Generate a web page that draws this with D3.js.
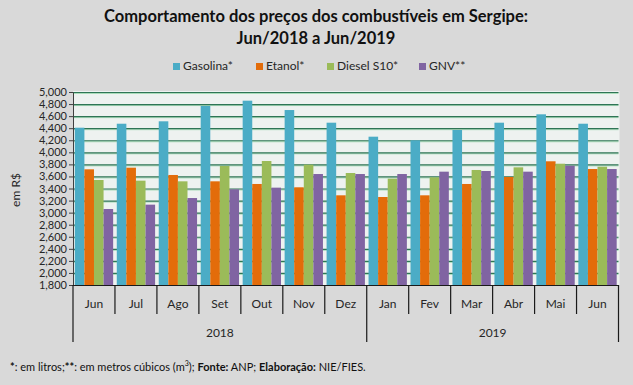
<!DOCTYPE html>
<html>
<head>
<meta charset="utf-8">
<script src="https://cdn.jsdelivr.net/npm/d3@7"></script>
<style>
html,body{margin:0;padding:0;background:#d9d9d9;}
svg{display:block;font-family:Lato,"Open Sans",sans-serif;}
</style>
</head>
<body>
<svg id="chart" width="633" height="385"></svg>
<script>
const months = ["Jun","Jul","Ago","Set","Out","Nov","Dez","Jan","Fev","Mar","Abr","Mai","Jun"];
const years = [{label:"2018", from:0, to:7},{label:"2019", from:7, to:13}];
const seriesNames = ["Gasolina*","Etanol*","Diesel S10*","GNV**"];
const colors = ["#4bacc6","#e36c0a","#9bbb59","#8064a2"];
const gasolina = [4408,4474,4514,4768,4856,4701,4491,4259,4199,4370,4491,4630,4474];
const etanol   = [3718,3745,3624,3519,3475,3420,3287,3259,3287,3475,3591,3851,3723];
const diesel   = [3541,3530,3519,3773,3856,3795,3657,3563,3585,3707,3751,3811,3761];
const gnv      = [3060,3132,3242,3386,3414,3640,3640,3640,3679,3690,3679,3778,3723];
const yTicks = d3.range(1800, 5001, 200);
const seriesValues = [gasolina, etanol, diesel, gnv];

const svg = d3.select("#chart");
const fmt = d3.format(",");

const pL = 73, pR = 618.5, pT = 92, pB = 285;
const x = d3.scaleBand().domain(d3.range(months.length)).range([pL, pR]).paddingInner(0).paddingOuter(0);
const inner = d3.scaleBand().domain(d3.range(4)).range([0, x.bandwidth()]).paddingOuter(0.19).paddingInner(0);
const y = d3.scaleLinear().domain([1800, 5000]).range([pB, pT]);

// plot background
svg.append("rect").attr("x", pL).attr("y", pT - 1).attr("width", pR - pL + 1).attr("height", pB - pT + 1).attr("fill", "#eef2f0");

// gridlines
const grid = svg.append("g");
yTicks.forEach(t => {
  if (t === 1800) return;
  grid.append("line").attr("x1", pL).attr("x2", pR).attr("y1", y(t) + 1.5).attr("y2", y(t) + 1.5).attr("stroke", "#a9dcb9").attr("stroke-width", 1);
  grid.append("line").attr("x1", pL).attr("x2", pR).attr("y1", y(t) + 0.5).attr("y2", y(t) + 0.5).attr("stroke", "#2f7556").attr("stroke-width", 1.2);
});

// bars
const bars = svg.append("g");
seriesValues.forEach((vals, s) => {
  bars.selectAll(null).data(vals).enter().append("rect")
    .attr("x", (d, i) => x(i) + inner(s))
    .attr("width", inner.bandwidth())
    .attr("y", d => y(d))
    .attr("height", d => y(1800) - y(d))
    .attr("fill", colors[s]);
});

// y axis
const yAxis = d3.axisLeft(y).tickValues(yTicks).tickFormat(fmt).tickSize(4).tickSizeOuter(0);
const ya = svg.append("g").attr("transform", `translate(${pL},0)`).call(yAxis);
ya.select(".domain").attr("stroke", "#404040");
ya.selectAll(".tick line").attr("stroke", "#404040");
ya.selectAll(".tick text").attr("font-size", 11).attr("fill", "#262626").attr("font-family", "Lato, sans-serif").attr("x", -6);

// x axis lines
const xa = svg.append("g").attr("stroke", "#1a1a1a").attr("stroke-width", 1.2);
xa.append("line").attr("x1", pL).attr("x2", pR).attr("y1", pB + 0.5).attr("y2", pB + 0.5);
d3.range(months.length + 1).forEach(i => {
  const xx = i < months.length ? x(i) : pR;
  const isYear = years.some(yr => yr.from === i || yr.to === i);
  xa.append("line").attr("x1", xx).attr("x2", xx).attr("y1", pB).attr("y2", isYear ? 342 : 314);
});

svg.append("g").selectAll("text").data(months).enter().append("text")
  .attr("x", (d, i) => x(i) + x.bandwidth() / 2).attr("y", 305)
  .attr("text-anchor", "middle").attr("dominant-baseline", "middle")
  .attr("font-size", 12).attr("fill", "#262626").text(d => d);

svg.append("g").selectAll("text").data(years).enter().append("text")
  .attr("x", d => (x(d.from) + (d.to < months.length ? x(d.to) : pR)) / 2).attr("y", 334)
  .attr("text-anchor", "middle").attr("dominant-baseline", "middle")
  .attr("font-size", 12).attr("fill", "#262626").text(d => d.label);

// y label
svg.append("text").attr("transform", "translate(17,190) rotate(-90)")
  .attr("text-anchor", "middle").attr("dominant-baseline", "middle")
  .attr("font-size", 12).attr("fill", "#262626").text("em R$");

// title
svg.append("text").attr("x", 316).attr("y", 18).attr("text-anchor", "middle").attr("dominant-baseline", "middle")
  .attr("font-size", 16.5).attr("font-weight", "bold").attr("fill", "#111").text("Comportamento dos preços dos combustíveis em Sergipe:");
svg.append("text").attr("x", 316).attr("y", 40).attr("text-anchor", "middle").attr("dominant-baseline", "middle")
  .attr("font-size", 16.5).attr("font-weight", "bold").attr("fill", "#111").text("Jun/2018 a Jun/2019");

// legend
const legX = [173, 256, 327, 419];
const leg = svg.append("g");
seriesNames.forEach((n, i) => {
  leg.append("rect").attr("x", legX[i]).attr("y", 63).attr("width", 7).attr("height", 7).attr("fill", colors[i]);
  leg.append("text").attr("x", legX[i] + 10).attr("y", 67).attr("dominant-baseline", "middle")
    .attr("font-size", 12).attr("fill", "#262626").text(n);
});

// footnote
const fn = svg.append("text").attr("x", 10).attr("y", 368).attr("font-size", 11).attr("fill", "#111").attr("dominant-baseline", "middle");
fn.append("tspan").attr("font-weight", "bold").text("*");
fn.append("tspan").text(": em litros;");
fn.append("tspan").attr("font-weight", "bold").text("**");
fn.append("tspan").text(": em metros cúbicos (m");
fn.append("tspan").attr("font-size", 7).attr("dy", -4).text("3");
fn.append("tspan").attr("dy", 4).text("); ");
fn.append("tspan").attr("font-weight", "bold").text("Fonte:");
fn.append("tspan").text(" ANP; ");
fn.append("tspan").attr("font-weight", "bold").text("Elaboração:");
fn.append("tspan").text(" NIE/FIES.");
</script>
</body>
</html>
